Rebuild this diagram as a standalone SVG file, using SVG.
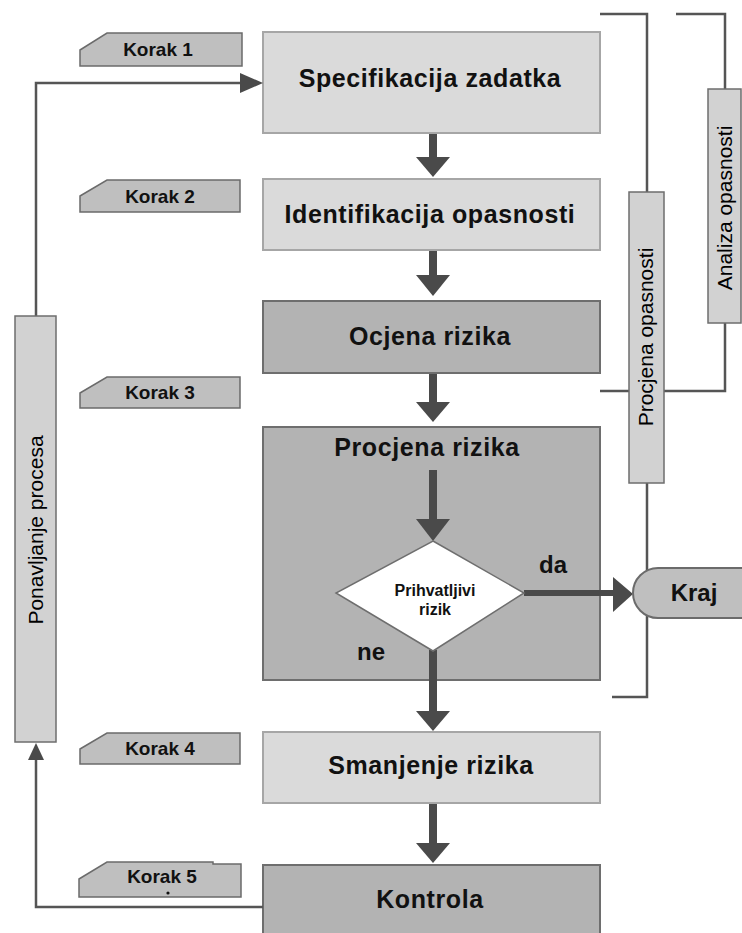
<svg xmlns="http://www.w3.org/2000/svg" width="742" height="933" viewBox="0 0 742 933">
<style>
.lt{fill:#dadada;stroke:#a6a6a6;stroke-width:2}
.dk{fill:#b3b3b3;stroke:#6e6e6e;stroke-width:2}
.tag{fill:#bfbfbf;stroke:#6b6b6b;stroke-width:1.5}
.vbox{fill:#d2d2d2;stroke:#6e6e6e;stroke-width:1.5}
.main{font-family:"Liberation Sans",Arial,sans-serif;font-weight:bold;font-size:25px;letter-spacing:0.6px;fill:#111;text-anchor:middle}
.tagt{font-family:"Liberation Sans",Arial,sans-serif;font-weight:bold;font-size:19px;fill:#111;text-anchor:middle}
.vt{font-family:"Liberation Sans",Arial,sans-serif;font-size:21px;fill:#000;text-anchor:middle}
.lbl{font-family:"Liberation Sans",Arial,sans-serif;font-weight:bold;font-size:24px;fill:#111;text-anchor:middle}
.thin{fill:none;stroke:#555;stroke-width:2.5}
.shaft{fill:none;stroke:#4a4a4a;stroke-width:8}
.head{fill:#4a4a4a}
</style>

<g id="n-korak1">
  <polygon class="tag" points="80,50 107,33 242,33 242,66 80,66"/>
  <text class="tagt" x="158" y="56">Korak 1</text>
</g>
<g id="n-korak2">
  <polygon class="tag" points="80,196 107,180 240,180 240,212 80,212"/>
  <text class="tagt" x="160" y="203">Korak 2</text>
</g>
<g id="n-korak3">
  <polygon class="tag" points="80,393 107,377 240,377 240,408 80,408"/>
  <text class="tagt" x="160" y="399">Korak 3</text>
</g>
<g id="n-korak4">
  <polygon class="tag" points="80,749 107,733 240,733 240,764 80,764"/>
  <text class="tagt" x="160" y="755">Korak 4</text>
</g>
<g id="n-korak5">
  <polygon class="tag" points="79,879 107,862 213,862 213,864 241,864 241,897 79,897"/>
  <text class="tagt" x="162" y="883">Korak 5</text>
  <circle cx="168" cy="893" r="1.6" fill="#111"/>
</g>

<g id="n-specifikacija">
  <rect class="lt" x="263" y="32" width="337" height="101"/>
  <text class="main" x="430" y="87">Specifikacija zadatka</text>
</g>
<g id="n-identifikacija">
  <rect class="lt" x="263" y="179" width="337" height="71"/>
  <text class="main" x="430" y="223">Identifikacija opasnosti</text>
</g>
<g id="n-ocjena">
  <rect class="dk" x="263" y="301" width="337" height="72"/>
  <text class="main" x="430" y="345">Ocjena rizika</text>
</g>
<g id="n-procjena-rizika">
  <rect class="dk" x="263" y="427" width="337" height="253"/>
  <text class="main" x="427" y="456">Procjena rizika</text>
  <text class="lbl" x="553" y="573">da</text>
  <text class="lbl" x="371" y="660">ne</text>
</g>
<g id="n-smanjenje">
  <rect class="lt" x="263" y="732" width="337" height="71"/>
  <text class="main" x="431" y="774">Smanjenje rizika</text>
</g>
<g id="n-kontrola">
  <rect class="dk" x="263" y="865" width="337" height="70"/>
  <text class="main" x="430" y="908">Kontrola</text>
</g>

<g id="connectors">
  <!-- right brackets -->
  <path class="thin" d="M600 14 H647 V192"/>
  <path class="thin" d="M647 483 V697 H612"/>
  <path class="thin" d="M676 14 H725 V89"/>
  <path class="thin" d="M725 323 V391 H600"/>
  <!-- loop back -->
  <path class="thin" d="M263 907 H36 V758"/>
  <polygon class="head" points="36,743 28,760 44,760"/>
  <path class="thin" d="M36 316 V83 H242"/>
  <polygon class="head" points="263,83 240,73 240,93"/>
  <!-- main flow arrows -->
  <path class="shaft" d="M433 134 V158"/>
  <polygon class="head" points="416,157 450,157 433,177"/>
  <path class="shaft" d="M433 251 V276"/>
  <polygon class="head" points="416,275 450,275 433,296"/>
  <path class="shaft" d="M433 374 V404"/>
  <polygon class="head" points="416,402 450,402 433,422"/>
  <path class="shaft" d="M433 470 V521"/>
  <polygon class="head" points="416,519 450,519 433,541"/>
  <path class="shaft" d="M433 650 V713"/>
  <polygon class="head" points="416,711 450,711 433,731"/>
  <path class="shaft" d="M433 804 V845"/>
  <polygon class="head" points="416,843 450,843 433,863"/>
  <!-- da arrow -->
  <path fill="none" stroke="#4a4a4a" stroke-width="6" d="M524 593 H615"/>
  <polygon class="head" points="633,594 613,577 613,612"/>
</g>

<g id="n-prihvatljivi">
  <polygon points="433,541 524,593 433,651 336,593" fill="#fff" stroke="#6e6e6e" stroke-width="1.5"/>
  <text font-family="'Liberation Sans',Arial,sans-serif" font-weight="bold" font-size="16" fill="#111" text-anchor="middle" x="435" y="596">Prihvatljivi</text>
  <text font-family="'Liberation Sans',Arial,sans-serif" font-weight="bold" font-size="16" fill="#111" text-anchor="middle" x="435" y="615">rizik</text>
</g>
<g id="n-procjena-opasnosti">
  <rect class="vbox" x="629" y="192" width="35" height="291"/>
  <text class="vt" transform="translate(653 337) rotate(-90)">Procjena opasnosti</text>
</g>
<g id="n-analiza-opasnosti">
  <rect class="vbox" x="708" y="89" width="33" height="234"/>
  <text class="vt" transform="translate(732 208) rotate(-90)">Analiza opasnosti</text>
</g>
<g id="n-ponavljanje">
  <rect class="vbox" x="15" y="316" width="41" height="426"/>
  <text class="vt" transform="translate(43 530) rotate(-90)">Ponavljanje procesa</text>
</g>
<g id="n-kraj">
  <path d="M742 568 H658 A25 25 0 0 0 658 618 H742" fill="#bfbfbf" stroke="#6b6b6b" stroke-width="2"/>
  <text class="lbl" x="694" y="601">Kraj</text>
</g>
</svg>
